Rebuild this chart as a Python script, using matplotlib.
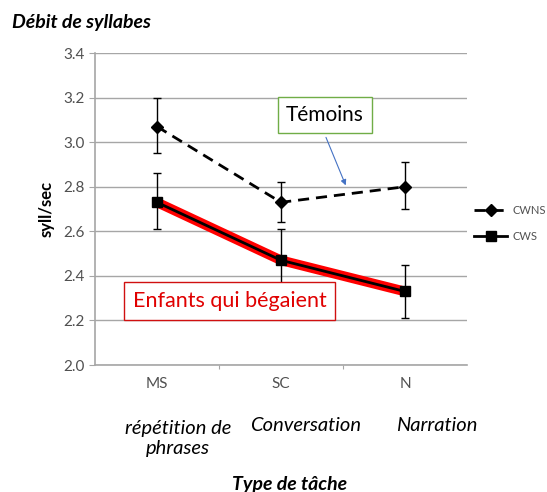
import numpy as np
import matplotlib.pyplot as plt
from matplotlib.patches import FancyArrowPatch

plt.rcParams['font.family'] = ['Lato', 'DejaVu Sans']

tasks = ["MS", "SC", "N"]
task_names = ["répétition de\nphrases", "Conversation", "Narration"]
cwns = [3.07, 2.73, 2.80]
cwns_lo = [2.95, 2.64, 2.70]
cwns_hi = [3.20, 2.82, 2.91]
cws = [2.73, 2.47, 2.33]
cws_lo = [2.61, 2.34, 2.21]
cws_hi = [2.86, 2.61, 2.45]

x = np.arange(len(tasks))
grey = "#505050"

fig = plt.figure(figsize=(5.47, 4.92), dpi=100)
ax = fig.add_axes([0.1737, 0.2581, 0.68, 0.6341])

ax.set_ylim(2.0, 3.4)
ax.set_xlim(-0.5, 2.5)
ax.set_yticks(np.arange(2.0, 3.41, 0.2))
ax.set_yticklabels(["%.1f" % v for v in np.arange(2.0, 3.41, 0.2)], fontsize=11, color=grey)
ax.yaxis.grid(True, color="#A6A6A6", lw=1)
ax.set_axisbelow(True)
ax.set_xticks([0.5, 1.5])
ax.set_xticklabels([])
ax.tick_params(axis="x", length=3, color="#A6A6A6")
ax.tick_params(axis="y", length=4, color="#A6A6A6")
for s in ["top", "right"]:
    ax.spines[s].set_visible(False)
for s in ["left", "bottom"]:
    ax.spines[s].set_color("#A6A6A6")
    ax.spines[s].set_linewidth(1.2)
for i, t in enumerate(tasks):
    ax.text(x[i], 1.915, t, ha="center", va="center", fontsize=11, color=grey)

# red highlight under the CWS line
ax.plot(x, cws, color="red", lw=7, solid_capstyle="round", solid_joinstyle="round", zorder=2)

err_wns = [np.array(cwns) - np.array(cwns_lo), np.array(cwns_hi) - np.array(cwns)]
err_ws = [np.array(cws) - np.array(cws_lo), np.array(cws_hi) - np.array(cws)]
ax.errorbar(x, cwns, yerr=err_wns, fmt="none", ecolor="black", elinewidth=1, capsize=3, zorder=3)
ax.errorbar(x, cws, yerr=err_ws, fmt="none", ecolor="black", elinewidth=1, capsize=3, zorder=3)
l1, = ax.plot(x, cwns, color="black", ls=(0, (4, 2.5)), lw=2, marker="D", ms=6, label="CWNS", zorder=4)
l2, = ax.plot(x, cws, color="black", lw=2, marker="s", ms=7, label="CWS", zorder=4)

leg = fig.legend(handles=[l1, l2], loc="center left", bbox_to_anchor=(0.848, 0.546),
                 frameon=False, fontsize=8, handlelength=3.0, labelspacing=1.4, handletextpad=0.5)
for t in leg.get_texts():
    t.set_color(grey)

# annotation boxes
fig.text(0.594, 0.766, "Témoins", ha="center", va="center", fontsize=15,
         bbox=dict(boxstyle="square,pad=0.4", fc="white", ec="#70AD47", lw=1))
arrow = FancyArrowPatch((0.594, 0.726), (0.634, 0.618), transform=fig.transFigure,
                        arrowstyle="-|>", mutation_scale=8, color="#4472C4", lw=0.8)
fig.patches.append(arrow)
fig.text(0.420, 0.388, "Enfants qui bégaient", ha="center", va="center",
         fontsize=15.5, color="#E00000",
         bbox=dict(boxstyle="square,pad=0.4", fc="white", ec="#D01010", lw=1))

ax.set_ylabel("syll/sec", fontsize=12, fontweight="bold", labelpad=6)
fig.text(0.022, 0.955, "Débit de syllabes", fontsize=14, fontweight="bold", style="italic", va="center")
task_x = [0.325, 0.559, 0.799]
for tx, name in zip(task_x, task_names):
    fig.text(tx, 0.136 if "\n" not in name else 0.108, name, ha="center", va="center",
             fontsize=14.5, style="italic", linespacing=1.2)
fig.text(0.53, 0.016, "Type de tâche", ha="center", va="center", fontsize=14,
         fontweight="bold", style="italic")

fig.savefig("out.png", dpi=100)
